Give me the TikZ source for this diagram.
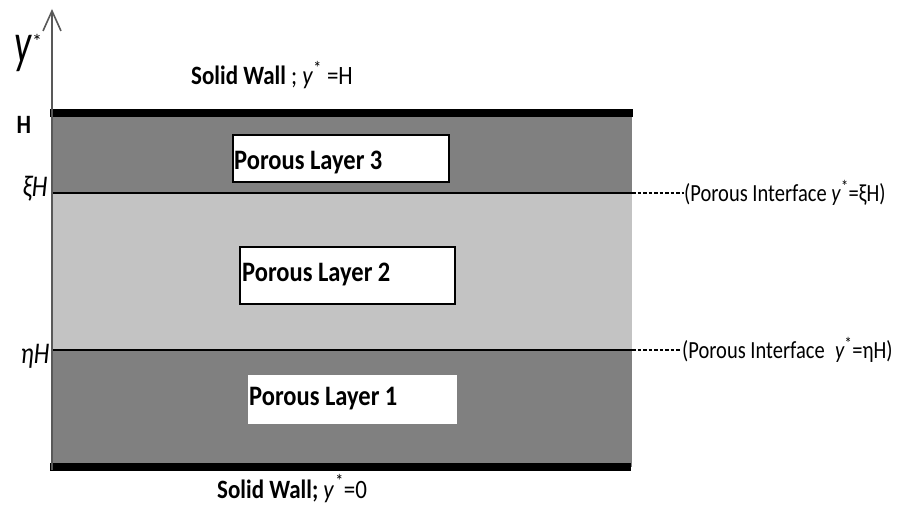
\documentclass[tikz,border=0pt]{standalone}
\usepackage{fontspec}
\setmainfont{Carlito}
\usetikzlibrary{arrows.meta}
\definecolor{darklayer}{gray}{0.50}
\definecolor{lightlayer}{gray}{0.765}
\definecolor{axisgray}{gray}{0.35}
% narrow-looking lettering: stretch glyphs vertically
\newcommand\talltext[2][1.15]{\scalebox{1}[#1]{#2}}
\tikzset{
  wall/.style={line width=7.5pt, black},
  iface/.style={line width=2.2pt, black},
  ifaceext/.style={line width=1.2pt, black, dash pattern=on 3.5pt off 2pt},
  axisline/.style={line width=1.6pt, axisgray, -{Straight Barb[length=20pt, width=18pt, line width=1.6pt]}},
  layerbox/.style={draw=black, line width=2pt, fill=white, inner sep=0pt, anchor=north west},
  plainbox/.style={fill=white, inner sep=0pt, anchor=north west},
  layertext/.style={font=\bfseries\fontsize{24.5}{24.5}\selectfont, inner sep=0pt, anchor=base west},
  walltext/.style={font=\fontsize{23}{23}\selectfont, inner sep=0pt, anchor=base west},
  ifacetext/.style={font=\fontsize{20.5}{20.5}\selectfont, inner sep=0pt, anchor=west},
  ticktext/.style={font=\fontsize{23}{23}\selectfont, inner sep=0pt},
}
\begin{document}
\begin{tikzpicture}[x=1pt, y=-1pt]
\useasboundingbox (0,0) rectangle (901,510);

% channel layers
\fill[darklayer]  (52,114) rectangle (632,193);
\fill[lightlayer] (52,193) rectangle (632,350);
\fill[darklayer]  (52,350) rectangle (632,467);

% named points along the channel
\coordinate (topL) at (50,113);   \coordinate (topR) at (633,113);
\coordinate (botL) at (50,467);   \coordinate (botR) at (631,467);
\coordinate (xiL)  at (52,193);   \coordinate (xiR)  at (632,193);
\coordinate (etaL) at (52,350);   \coordinate (etaR) at (632,350);
\coordinate (xiEnd)  at (684,193);
\coordinate (etaEnd) at (680,350);
\coordinate (axisBase) at (52,470);
\coordinate (axisTip)  at (52,9);

% porous interfaces
\draw[iface] (xiL) -- (xiR);
\draw[iface] (etaL) -- (etaR);
\draw[ifaceext] (xiR) -- (xiEnd);
\draw[ifaceext] (etaR) -- (etaEnd);

% solid walls
\draw[wall] (topL) -- (topR);
\draw[wall] (botL) -- (botR);

% vertical axis
\draw[axisline] (axisBase) -- (axisTip);

% layer labels
\node[layerbox, minimum width=216pt, minimum height=47pt] (box3) at (232,134) {};
\node[layertext] (lab3) at (234,170) {\talltext{Porous Layer 3}};
\node[layerbox, minimum width=215pt, minimum height=57pt] (box2) at (239,246) {};
\node[layertext] (lab2) at (242,282) {\talltext{Porous Layer 2}};
\node[plainbox, minimum width=209pt, minimum height=49pt] (box1) at (248,375) {};
\node[layertext] (lab1) at (249,405) {\talltext{Porous Layer 1}};

% wall labels
\node[walltext] (wallTop) at (191,85) {\talltext{\textbf{Solid Wall} ; \textit{y}\textsuperscript{*} =H}};
\node[walltext] (wallBot) at (217,498) {\talltext{\textbf{Solid Wall;} \textit{y}\kern1pt\textsuperscript{*}=0}};

% interface labels
\node[ifacetext] (xiLab)  at (xiEnd)  {\talltext[1.2]{(Porous Interface \textit{y}\textsuperscript{*}=ξH)}};
\node[ifacetext] (etaLab) at ([xshift=2pt]etaEnd) {\talltext[1.2]{(Porous Interface\enspace\textit{y}\textsuperscript{*}=ηH)}};

% axis ticks and name
\node[ticktext, font=\bfseries\fontsize{23}{23}\selectfont] (tickH) at (24,125) {\talltext{H}};
\node[ticktext, font=\itshape\fontsize{25}{25}\selectfont] (tickXi) at (35,189) {\talltext[1.2]{ξH}};
\node[ticktext, font=\itshape\fontsize{25}{25}\selectfont] (tickEta) at (35,356) {\talltext[1.2]{ηH}};
\node[font=\fontsize{38}{38}\selectfont, inner sep=0pt, anchor=base west] (axisName) at (14,63)
  {\talltext[1.5]{\textit{y}}\raisebox{14pt}{\fontsize{20}{20}\selectfont *}};
\end{tikzpicture}
\end{document}
